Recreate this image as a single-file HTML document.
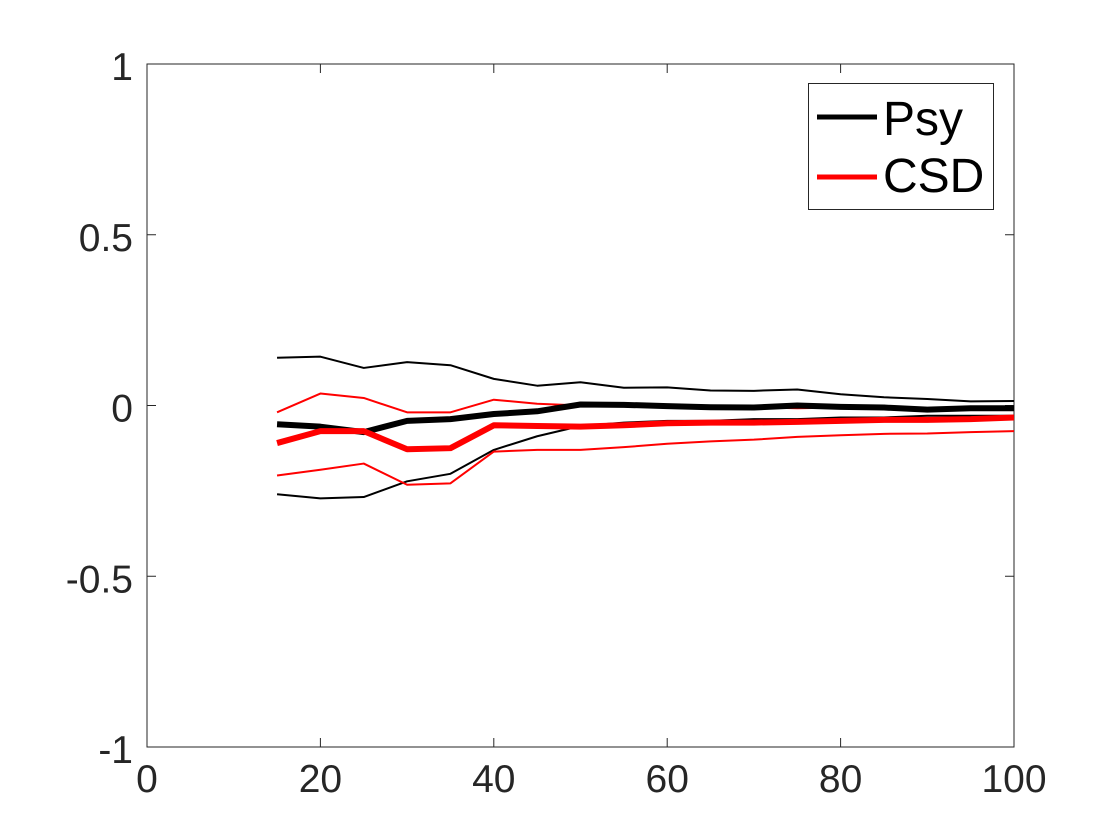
<!DOCTYPE html>
<html><head><meta charset="utf-8"><style>body{margin:0;background:#fff}svg{display:block}</style></head>
<body>
<svg id="chart" width="1120" height="840" xmlns="http://www.w3.org/2000/svg" font-family="Liberation Sans, sans-serif">
<rect width="1120" height="840" fill="#fff"/>
<g id="plot"></g>
</svg>
<script>
const xs=[15,20,25,30,35,40,45,50,55,60,65,70,75,80,85,90,95,100];
const psyMean=[-0.055,-0.062,-0.078,-0.045,-0.04,-0.025,-0.017,0.003,0.002,-0.002,-0.005,-0.006,0,-0.004,-0.006,-0.012,-0.008,-0.008];
const psyUpper=[0.14,0.143,0.11,0.127,0.118,0.078,0.058,0.068,0.052,0.053,0.044,0.043,0.047,0.033,0.024,0.019,0.012,0.013];
const psyLower=[-0.26,-0.272,-0.268,-0.222,-0.2,-0.13,-0.09,-0.06,-0.05,-0.045,-0.045,-0.04,-0.04,-0.035,-0.035,-0.03,-0.03,-0.03];
const csdMean=[-0.11,-0.075,-0.075,-0.128,-0.125,-0.058,-0.06,-0.062,-0.058,-0.052,-0.05,-0.05,-0.048,-0.045,-0.042,-0.042,-0.04,-0.035];
const csdUpper=[-0.02,0.035,0.022,-0.02,-0.02,0.017,0.005,0,-0.002,0.002,-0.005,-0.005,-0.008,-0.006,-0.006,-0.008,-0.01,-0.01];
const csdLower=[-0.205,-0.188,-0.17,-0.232,-0.228,-0.135,-0.13,-0.13,-0.122,-0.112,-0.105,-0.1,-0.092,-0.087,-0.083,-0.082,-0.078,-0.075];
const xTicks=[0,20,40,60,80,100];
const yTicks=[-1,-0.5,0,0.5,1];
const yTickLabels=["-1","-0.5","0","0.5","1"];
const L=147,R=1014,T=64,B=747;
const sx=v=>L+(v-0)/100*(R-L);
const sy=v=>B-(v+1)/2*(B-T);
const NS="http://www.w3.org/2000/svg";
const g=document.getElementById('plot');
function mk(t,a,p){const e=document.createElementNS(NS,t);for(const k in a)e.setAttribute(k,a[k]);(p||g).appendChild(e);return e;}
const ax=mk('rect',{x:L,y:T,width:R-L,height:B-T,fill:'none',stroke:'#262626','stroke-width':1});


xTicks.forEach(v=>{
  mk('line',{x1:sx(v),x2:sx(v),y1:B,y2:B-9,stroke:'#262626'});
  mk('line',{x1:sx(v),x2:sx(v),y1:T,y2:T+9,stroke:'#262626'});
  const t=mk('text',{x:sx(v),y:B+45,'text-anchor':'middle','font-size':39,fill:'#262626'});
  t.textContent=v;
  
  
});
yTicks.forEach((v,i)=>{
  mk('line',{x1:L,x2:L+9,y1:sy(v),y2:sy(v),stroke:'#262626'});
  mk('line',{x1:R,x2:R-9,y1:sy(v),y2:sy(v),stroke:'#262626'});
  const t=mk('text',{x:L-14,y:sy(v)+16,'text-anchor':'end','font-size':39,fill:'#262626'});
  t.textContent=yTickLabels[i];
  
  
});
function line(arr,color,w,name){
  const p=mk('polyline',{points:arr.map((v,i)=>sx(xs[i])+','+sy(v)).join(' '),fill:'none',stroke:color,'stroke-width':w,'stroke-linejoin':'round'});
  
  
}
line(psyUpper,'#000',2,'psy-upper-line');
line(psyLower,'#000',2,'psy-lower-line');
line(csdUpper,'#f00',2,'csd-upper-line');
line(csdLower,'#f00',2,'csd-lower-line');
line(psyMean,'#000',6,'psy-mean-line');
line(csdMean,'#f00',6,'csd-mean-line');
const lg=mk('g',{});


mk('rect',{x:808.5,y:83.5,width:185,height:126,fill:'#fff',stroke:'#262626','stroke-width':1},lg);
mk('line',{x1:817,x2:877,y1:117,y2:117,stroke:'#000','stroke-width':5},lg);
mk('line',{x1:817,x2:877,y1:177,y2:177,stroke:'#f00','stroke-width':5},lg);
const t1=mk('text',{x:883,y:135,'font-size':48,fill:'#000'},lg);t1.textContent='Psy';


const t2=mk('text',{x:883,y:192,'font-size':48,fill:'#000'},lg);t2.textContent='CSD';


</script>
</body></html>
